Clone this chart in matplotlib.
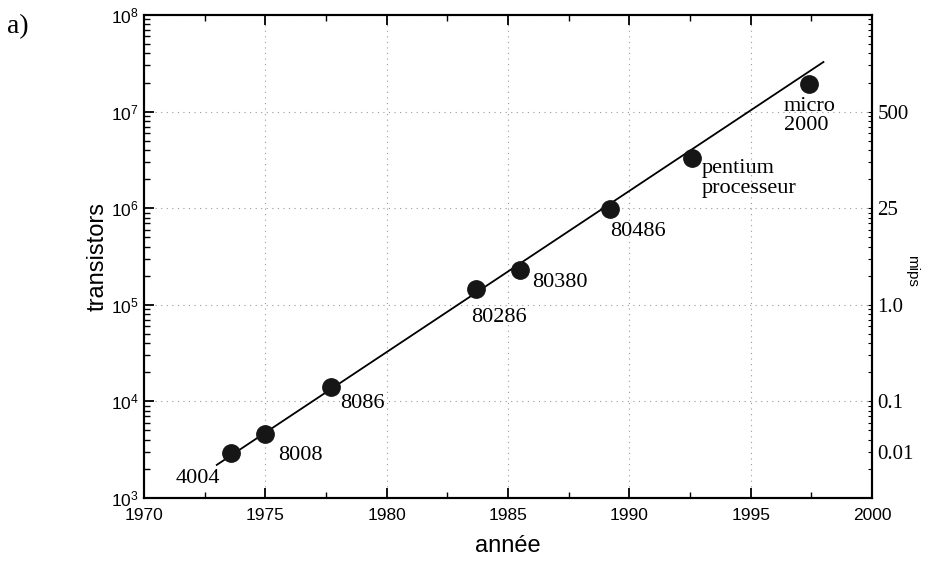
import matplotlib
matplotlib.use("Agg")
import matplotlib.pyplot as plt
from matplotlib.ticker import LogLocator, NullFormatter, FixedLocator, MultipleLocator

# Data
chips = ["4004", "8008", "8086", "80286", "80380", "80486", "pentium\nprocesseur", "micro\n2000"]
years = [1973.6, 1975.0, 1977.7, 1983.7, 1985.5, 1989.2, 1992.6, 1997.4]
transistors = [2900, 4600, 14100, 146000, 229000, 977000, 3.3e6, 1.93e7]

trend_years = [1973.0, 1998.0]
trend_transistors = [2200, 3.26e7]

mips_ticks = [1e7, 1e6, 1e5, 1e4, 3e3]
mips_labels = ["500", "25", "1.0", "0.1", "0.01"]

# label offsets (points) relative to each point
offsets = [(-40, -11), (9, -8.5), (6.5, -5), (-4, -14), (8.5, -2.5), (0, -9), (7, -1), (-18, -9)]

plt.rcParams['font.family'] = ['Liberation Sans', 'DejaVu Sans']

fig = plt.figure(figsize=(9.33, 5.72), dpi=100)
ax = fig.add_axes([0.1543, 0.1294, 0.7803, 0.8444])

ax.set_yscale('log')
ax.set_xlim(1970, 2000)
ax.set_ylim(1e3, 1e8)

ax.plot(trend_years, trend_transistors, color='black', lw=1.3, zorder=2)
ax.plot(years, transistors, 'o', color='#161616', markersize=12.5, zorder=3)

serif = ['Liberation Serif', 'DejaVu Serif']
for name, x, y, off in zip(chips, years, transistors, offsets):
    ax.annotate(name, xy=(x, y), xytext=off, textcoords='offset points',
                ha='left', va='top', fontsize=16, family=serif,
                linespacing=1.05)

ax.grid(True, which='major', linestyle=(0, (1, 4)), color='#999999', lw=0.8)

ax.xaxis.set_major_locator(MultipleLocator(5))
ax.xaxis.set_minor_locator(MultipleLocator(2.5))
ax.yaxis.set_major_locator(LogLocator(base=10, numticks=10))
ax.yaxis.set_minor_locator(LogLocator(base=10, subs=range(2, 10), numticks=20))
ax.yaxis.set_minor_formatter(NullFormatter())

ax.tick_params(which='both', direction='in', top=True, right=False, labelsize=12.5)
ax.tick_params(which='major', length=7, width=1.3)
ax.tick_params(which='minor', length=4, width=1.0)
ax.tick_params(axis='x', pad=7)
for s in ax.spines.values():
    s.set_linewidth(1.5)

ax.set_xlabel("année", fontsize=17, labelpad=9)
ax.set_ylabel("transistors", fontsize=17, labelpad=2)

ax2 = ax.twinx()
ax2.set_yscale('log')
ax2.set_ylim(ax.get_ylim())
ax2.yaxis.set_major_locator(FixedLocator(mips_ticks))
ax2.set_yticklabels(mips_labels, family=serif, fontsize=15)
ax2.yaxis.set_minor_locator(LogLocator(base=10, subs=range(2, 10), numticks=20))
ax2.yaxis.set_minor_formatter(NullFormatter())
ax2.tick_params(which='both', direction='in', length=3, width=0.8, pad=4)
ax2.set_ylabel("mips", fontsize=11, rotation=270)
ax2.yaxis.set_label_coords(1.065, 0.47)
for s in ax2.spines.values():
    s.set_linewidth(1.5)

fig.text(0.008, 0.975, "a)", fontsize=20, family=serif, va='top', ha='left')

fig.savefig("out.png", dpi=100)
